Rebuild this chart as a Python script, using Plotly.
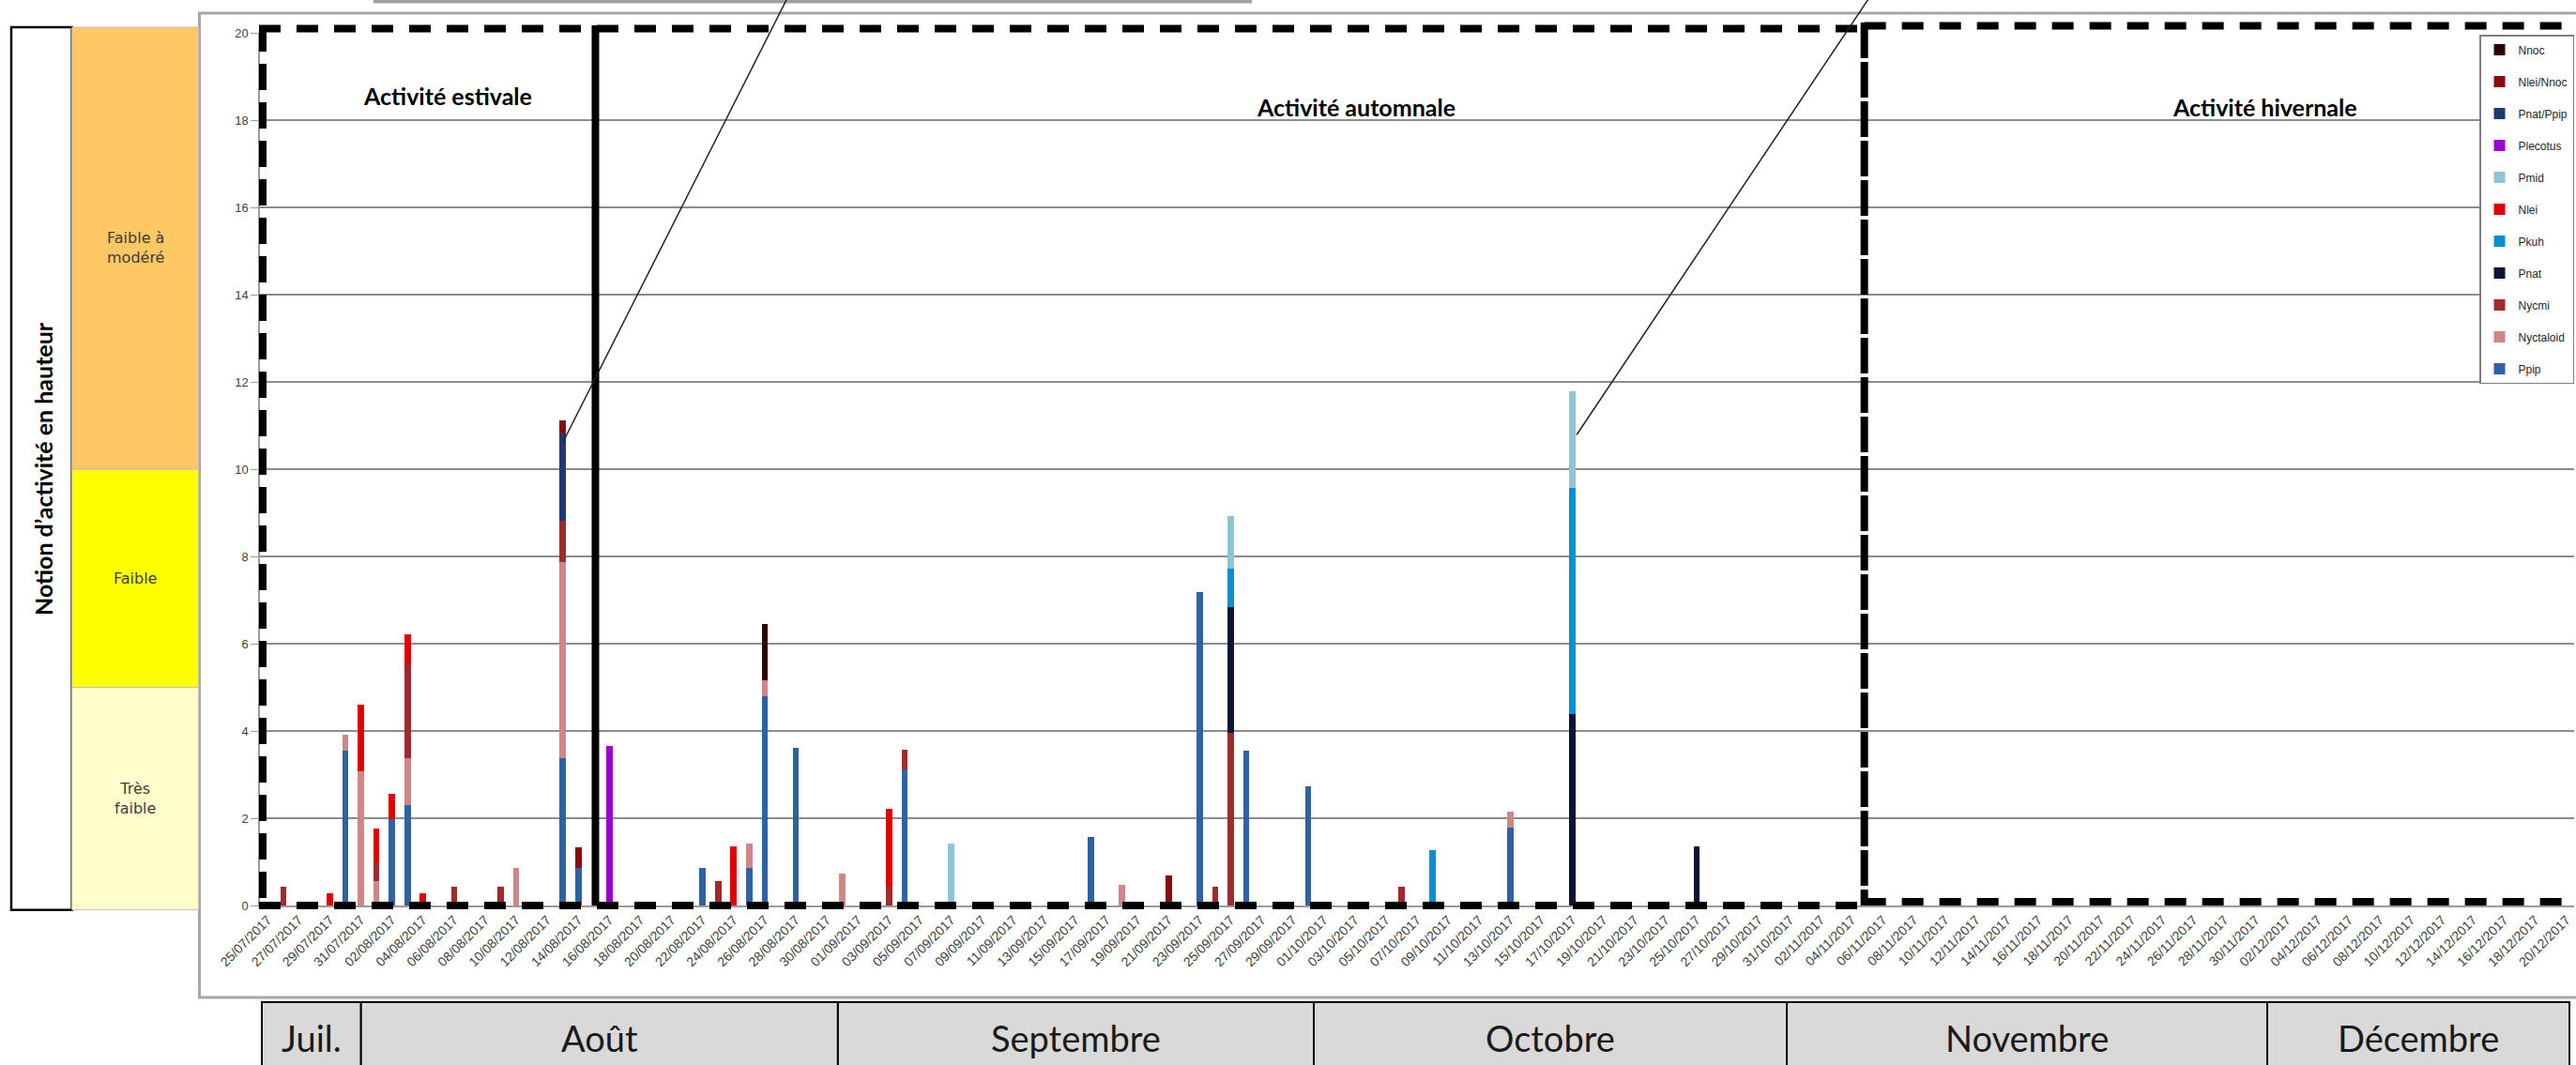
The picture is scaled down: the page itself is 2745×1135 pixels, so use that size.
import pandas as pd
import plotly.graph_objects as go

# ---------------------------------------------------------------- categories
all_dates = pd.date_range("2017-07-25", "2017-12-20", freq="D").strftime("%d/%m/%Y").tolist()
tick_dates = all_dates[::2]

# nights with at least one contact recorded at height
obs_dates = [
    "26/07/2017", "29/07/2017", "30/07/2017", "31/07/2017", "01/08/2017",
    "02/08/2017", "03/08/2017", "04/08/2017", "06/08/2017", "09/08/2017",
    "10/08/2017", "13/08/2017", "14/08/2017", "16/08/2017", "22/08/2017",
    "23/08/2017", "24/08/2017", "25/08/2017", "26/08/2017", "28/08/2017",
    "31/08/2017", "03/09/2017", "04/09/2017", "07/09/2017", "16/09/2017",
    "18/09/2017", "21/09/2017", "23/09/2017", "24/09/2017", "25/09/2017",
    "26/09/2017", "30/09/2017", "06/10/2017", "08/10/2017", "13/10/2017",
    "17/10/2017", "25/10/2017",
]

# ------------------------------------------- activity per species (obs_dates)
ppip = [0, 0, 3.55, 0, 0, 1.98, 2.30, 0, 0, 0,
        0, 3.37, 0.86, 0, 0.86, 0, 0, 0.86, 4.80, 3.62,
        0, 0, 3.12, 0, 1.58, 0, 0, 7.18, 0, 0,
        3.54, 2.74, 0, 0, 1.79, 0, 0]
nyctaloid = [0, 0, 0.36, 3.07, 0.57, 0, 1.07, 0, 0, 0,
             0.86, 4.50, 0, 0, 0, 0, 0, 0.55, 0.37, 0,
             0.73, 0, 0, 0, 0, 0.47, 0, 0, 0, 0,
             0, 0, 0, 0, 0.37, 0, 0]
nycmi = [0.44, 0, 0, 0, 0.43, 0, 2.16, 0, 0.44, 0.44,
         0, 0.95, 0, 0, 0, 0.55, 0, 0, 0, 0,
         0, 0.44, 0.44, 0, 0, 0, 0, 0, 0.44, 3.96,
         0, 0, 0.44, 0, 0, 0, 0]
pnat = [0, 0, 0, 0, 0, 0, 0, 0, 0, 0,
        0, 0, 0, 0, 0, 0, 0, 0, 0, 0,
        0, 0, 0, 0, 0, 0, 0, 0, 0, 2.88,
        0, 0, 0, 0, 0, 4.39, 1.36]
pkuh = [0, 0, 0, 0, 0, 0, 0, 0, 0, 0,
        0, 0, 0, 0, 0, 0, 0, 0, 0, 0,
        0, 0, 0, 0, 0, 0, 0, 0, 0, 0.89,
        0, 0, 0, 1.26, 0, 5.17, 0]
nlei = [0, 0.28, 0, 1.54, 0.76, 0.57, 0.68, 0.28, 0, 0,
        0, 0, 0, 0, 0, 0, 1.35, 0, 0, 0,
        0, 1.77, 0, 0, 0, 0, 0, 0, 0, 0,
        0, 0, 0, 0, 0, 0, 0]
pmid = [0, 0, 0, 0, 0, 0, 0, 0, 0, 0,
        0, 0, 0, 0, 0, 0, 0, 0, 0, 0,
        0, 0, 0, 1.42, 0, 0, 0, 0, 0, 1.19,
        0, 0, 0, 0, 0, 2.23, 0]
plecotus = [0, 0, 0, 0, 0, 0, 0, 0, 0, 0,
            0, 0, 0, 3.66, 0, 0, 0, 0, 0, 0,
            0, 0, 0, 0, 0, 0, 0, 0, 0, 0,
            0, 0, 0, 0, 0, 0, 0]
pnat_ppip = [0, 0, 0, 0, 0, 0, 0, 0, 0, 0,
             0, 2.00, 0, 0, 0, 0, 0, 0, 0, 0,
             0, 0, 0, 0, 0, 0, 0, 0, 0, 0,
             0, 0, 0, 0, 0, 0, 0]
nlei_nnoc = [0, 0, 0, 0, 0, 0, 0, 0, 0, 0,
             0, 0.30, 0.48, 0, 0, 0, 0, 0, 0, 0,
             0, 0, 0, 0, 0, 0, 0.69, 0, 0, 0,
             0, 0, 0, 0, 0, 0, 0]
nnoc = [0, 0, 0, 0, 0, 0, 0, 0, 0, 0,
        0, 0, 0, 0, 0, 0, 0, 0, 1.29, 0,
        0, 0, 0, 0, 0, 0, 0, 0, 0, 0,
        0, 0, 0, 0, 0, 0, 0]

# stacking order, bottom to top
series_names = ["Ppip", "Nyctaloid", "Nycmi", "Pnat", "Pkuh", "Nlei",
                "Pmid", "Plecotus", "Pnat/Ppip", "Nlei/Nnoc", "Nnoc"]
series_values = [ppip, nyctaloid, nycmi, pnat, pkuh, nlei,
                 pmid, plecotus, pnat_ppip, nlei_nnoc, nnoc]

colors = {
    "Ppip": "#2E62A3", "Nyctaloid": "#D08686", "Nycmi": "#A32A2A",
    "Pnat": "#0B1535", "Pkuh": "#0A8FD4", "Nlei": "#E00000",
    "Pmid": "#8EC4D6", "Plecotus": "#9A00D6", "Pnat/Ppip": "#1F3A73",
    "Nlei/Nnoc": "#8B0A0A", "Nnoc": "#2E0505",
}

band_labels = ["Très<br>faible", "Faible", "Faible à<br>modéré"]
band_limits = [0, 5, 10, 20]
band_colors = ["#FFFFCC", "#FFFF00", "#FFC864"]

season_labels = ["Activité estivale", "Activité automnale", "Activité hivernale"]
month_labels = ["Juil.", "Août", "Septembre", "Octobre", "Novembre", "Décembre"]

# ------------------------------------------------------------------ geometry
W, H = 2745, 1135
M_L, M_R, M_T, M_B = 277, 2, 35, 170
PW, PH = W - M_L - M_R, H - M_T - M_B
N = len(all_dates)
Y_MAX = 20


def px_x(X):
    return (X - M_L) / PW


def px_y(Y):
    return (H - M_B - Y) / PH


def cat_x(i):
    return (i + 0.5) / N


def val_y(v):
    return v / Y_MAX


def label(x, y, text, font, **kw):
    return dict(xref="paper", yref="paper", x=x, y=y, text=text, showarrow=False,
                xanchor="center", yanchor="middle", font=font, **kw)


fig = go.Figure()
n_series = len(series_names)
for k, (name, vals) in enumerate(zip(series_names, series_values)):
    fig.add_trace(go.Bar(
        x=obs_dates, y=vals, name=name, legendgroup=name,
        legendrank=n_series - k,
        marker=dict(color=colors[name], line=dict(width=0)),
    ))

shapes = []
annotations = []

# outer chart frame and the edge of the box above it
shapes.append(dict(type="rect", xref="paper", yref="paper",
                   x0=px_x(212.5), x1=px_x(2790), y0=px_y(1063), y1=px_y(14),
                   line=dict(color="#A6A6A6", width=3), layer="below"))
shapes.append(dict(type="line", xref="paper", yref="paper",
                   x0=px_x(398), x1=px_x(1334), y0=px_y(1.5), y1=px_y(1.5),
                   line=dict(color="#A0A0A0", width=4)))

# left: title box and activity level bands
shapes.append(dict(type="rect", xref="paper", yref="paper",
                   x0=px_x(12), x1=px_x(76.7), y0=val_y(-0.1), y1=val_y(20.13),
                   fillcolor="white", line=dict(color="black", width=2.5)))
annotations.append(label(px_x(46), val_y(10), "<b>Notion d’activité en hauteur</b>",
                         dict(family="Lato", size=25, color="black"), textangle=-90))
for k, lab in enumerate(band_labels):
    lo = band_limits[k] if k else -0.1
    hi = band_limits[k + 1] if k < 2 else 20.13
    shapes.append(dict(type="rect", xref="paper", yref="paper",
                       x0=px_x(76.7), x1=px_x(211.7), y0=val_y(lo), y1=val_y(hi),
                       fillcolor=band_colors[k], line=dict(color="#BFBFBF", width=1)))
    annotations.append(label(px_x(144), val_y((lo + hi) / 2), lab,
                             dict(family="DejaVu Sans", size=16, color="#3C3C3C")))

# season frames
DASH_H = "23px,17px"
winter_x = cat_x(102.8)
shapes += [
    dict(type="line", xref="paper", yref="paper", x0=px_x(276), x1=winter_x,
         y0=px_y(30.5), y1=px_y(30.5), line=dict(color="black", width=8, dash=DASH_H)),
    dict(type="line", xref="paper", yref="paper", x0=winter_x, x1=1.01,
         y0=px_y(27.5), y1=px_y(27.5), line=dict(color="black", width=8, dash=DASH_H)),
    dict(type="line", xref="paper", yref="paper", x0=px_x(276), x1=winter_x,
         y0=0, y1=0, line=dict(color="black", width=8, dash=DASH_H)),
    dict(type="line", xref="paper", yref="paper", x0=winter_x, x1=1.01,
         y0=px_y(961), y1=px_y(961), line=dict(color="black", width=8, dash=DASH_H)),
    dict(type="line", xref="paper", yref="paper", x0=px_x(280), x1=px_x(280),
         y0=px_y(27), y1=0, line=dict(color="black", width=8, dash="28px,13px")),
    dict(type="line", xref="paper", yref="paper", x0=winter_x, x1=winter_x,
         y0=px_y(24), y1=px_y(965), line=dict(color="black", width=8, dash="38px,4px")),
    dict(type="line", xref="paper", yref="paper", x0=cat_x(21.1), x1=cat_x(21.1),
         y0=px_y(27), y1=0, line=dict(color="black", width=8)),
]

# callout leaders
shapes += [
    dict(type="line", xref="paper", yref="paper", x0=px_x(600), y0=px_y(471),
         x1=px_x(843), y1=px_y(-10), line=dict(color="#222222", width=1.5)),
    dict(type="line", xref="paper", yref="paper", x0=px_x(1680), y0=px_y(463.5),
         x1=px_x(1997), y1=px_y(-10), line=dict(color="#222222", width=1.5)),
]

season_pos = [(476.8, 101.5), (1445, 114), (2413, 114)]
for lab, (sx, sy) in zip(season_labels, season_pos):
    annotations.append(label(px_x(sx), px_y(sy), f"<b>{lab}</b>",
                             dict(family="Lato", size=25, color="black")))

# month table under the date axis
month_edges = [279, 384.7, 892.9, 1400, 1904, 2416, 2738]
for k, lab in enumerate(month_labels):
    x0, x1 = month_edges[k], month_edges[k + 1]
    shapes.append(dict(type="rect", xref="paper", yref="paper",
                       x0=px_x(x0), x1=px_x(x1), y0=px_y(1150), y1=px_y(1068),
                       fillcolor="#D9D9D9", line=dict(color="black", width=2)))
    annotations.append(label(px_x((x0 + x1) / 2), px_y(1106), lab,
                             dict(family="Lato", size=38, color="#1A1A1A")))

fig.update_layout(
    width=W, height=H,
    margin=dict(l=M_L, r=M_R, t=M_T, b=M_B, pad=0, autoexpand=False),
    paper_bgcolor="white", plot_bgcolor="white",
    barmode="stack", bargap=0.6,
    font=dict(family="Liberation Sans", color="#404040"),
    shapes=shapes, annotations=annotations,
    legend=dict(
        x=1.0, xanchor="right", y=px_y(37), yanchor="top",
        bgcolor="white", bordercolor="#7F7F7F", borderwidth=1.5,
        font=dict(family="Liberation Sans", size=12, color="#262626"),
        itemwidth=30, tracegroupgap=15, traceorder="grouped",
    ),
    xaxis=dict(
        type="category", categoryorder="array", categoryarray=all_dates,
        range=[-0.5, N - 0.5], tickmode="array", tickvals=tick_dates, ticktext=tick_dates,
        tickangle=-45, tickfont=dict(size=14, color="#404040"),
        showline=True, linecolor="#9A9A9A", linewidth=1.5, showgrid=False, ticks="",
        automargin=False,
    ),
    yaxis=dict(
        range=[0, Y_MAX], dtick=2, tick0=0,
        showgrid=True, gridcolor="#8C8C8C", gridwidth=1.5, zeroline=False,
        showline=True, linecolor="#9A9A9A", linewidth=1.5,
        ticks="outside", ticklen=8, tickcolor="#9A9A9A",
        tickfont=dict(size=13, color="#404040"), automargin=False,
    ),
)

fig.write_html("out.html", config={"displayModeBar": False})
